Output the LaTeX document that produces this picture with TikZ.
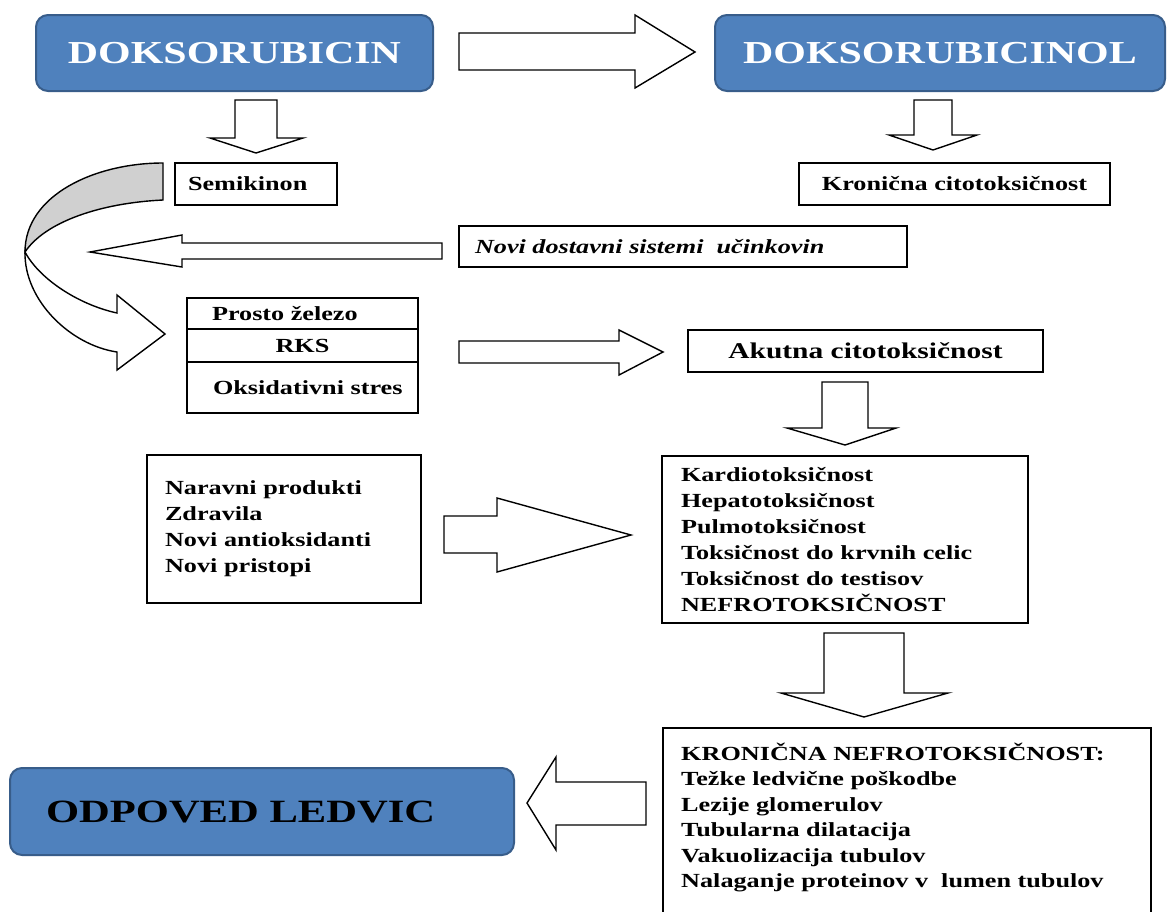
\documentclass[tikz,border=0pt]{standalone}
\usepackage{fontspec}
\setmainfont{Liberation Serif}[FakeStretch=1.31]
\definecolor{hdrfill}{HTML}{4F81BD}
\definecolor{hdrline}{HTML}{385D8A}
\definecolor{bandgray}{HTML}{D0D0D0}
\newcommand\leftcell[2]{\makebox[#1][l]{#2}}
\tikzset{
  hdr/.style={draw=hdrline, line width=2pt, fill=hdrfill, rounded corners=12pt, inner sep=0pt},
  box/.style={draw=black, line width=1.4pt, fill=white, inner sep=0pt},
  txt/.style={font=\bfseries\fontsize{20}{26}\selectfont},
  blk/.style={draw=black, line width=1.4pt, fill=white, line join=miter},
}
\begin{document}
\begin{tikzpicture}[x=1pt, y=-1pt]
\fill[white] (0,0) rectangle (1169,911);
\useasboundingbox (0,0) rectangle (1169,911);

% header boxes
\node[hdr, minimum width=397pt, minimum height=76pt, text=white,
      font=\bfseries\fontsize{32}{36}\selectfont] (doks) at (234.5,53) {DOKSORUBICIN};
\node[hdr, minimum width=450pt, minimum height=76pt, text=white,
      font=\bfseries\fontsize{32}{36}\selectfont] (doksol) at (940,53) {DOKSORUBICINOL};

% plain boxes
\node[box, txt, minimum width=162pt, minimum height=42pt, inner xsep=13pt] (semi) at (256,184)
  {\leftcell{136pt}{Semikinon}};
\node[box, txt, minimum width=311pt, minimum height=42pt] (kronc) at (954.5,184)
  {Kronična citotoksičnost};
\node[box, minimum width=448pt, minimum height=41pt, inner xsep=16pt,
      font=\bfseries\itshape\fontsize{20}{26}\selectfont] (novi) at (683,246.5)
  {\leftcell{416pt}{Novi dostavni sistemi \ učinkovin}};

\node[box, txt, minimum width=231pt, minimum height=31pt, inner xsep=25pt] (prosto) at (302.5,313.5)
  {\leftcell{181pt}{Prosto železo}};
\node[box, txt, minimum width=231pt, minimum height=33pt] (rks) at (302.5,345.5) {RKS};
\node[box, txt, minimum width=231pt, minimum height=51pt, inner xsep=26pt] (oks) at (302.5,387.5)
  {\leftcell{179pt}{Oksidativni stres}};

\node[box, minimum width=355pt, minimum height=42pt,
      font=\bfseries\fontsize{22.5}{26}\selectfont] (akut) at (865.5,351) {Akutna citotoksičnost};

\node[box, txt, minimum width=274pt, minimum height=148pt, inner xsep=18pt,
      text width=238pt, align=left] (narav) at (284,529)
  {Naravni produkti\\Zdravila\\Novi antioksidanti\\Novi pristopi};

\node[box, txt, minimum width=366pt, minimum height=167pt, inner xsep=19pt,
      text width=328pt, align=left] (kard) at (845,539.5)
  {Kardiotoksičnost\\Hepatotoksičnost\\Pulmotoksičnost\\Toksičnost do krvnih celic\\Toksičnost do testisov\\NEFROTOKSIČNOST};

\node[box, minimum width=488pt, minimum height=202pt] (kronbox) at (907,829) {};
\node[txt, font=\bfseries\fontsize{20}{25.4}\selectfont, inner sep=0pt, anchor=north west, align=left] (kronn) at (681,743)
  {KRONIČNA NEFROTOKSIČNOST:\\Težke ledvične poškodbe\\Lezije glomerulov\\Tubularna dilatacija\\Vakuolizacija tubulov\\Nalaganje proteinov v \ lumen tubulov};

\node[hdr, minimum width=504pt, minimum height=87pt, inner xsep=36pt, text=black,
      font=\bfseries\fontsize{32.5}{36}\selectfont] (odpoved) at (262,811.5)
  {\leftcell{432pt}{ODPOVED LEDVIC}};

% block arrows
\filldraw[blk] (459,33) -- (635,33) -- (635,15) -- (695,52) -- (635,88) -- (635,70) -- (459,70) -- cycle;
\filldraw[blk] (235,100) -- (277,100) -- (277,138) -- (303,138) -- (256,153) -- (210,138) -- (235,138) -- cycle;
\filldraw[blk] (914,100) -- (952,100) -- (952,135) -- (977,135) -- (933,150) -- (889,135) -- (914,135) -- cycle;
\filldraw[blk] (442,243) -- (182,243) -- (182,235) -- (90,252) -- (182,267) -- (182,259) -- (442,259) -- cycle;
\filldraw[blk] (459,341) -- (619,341) -- (619,330) -- (663,352) -- (619,375) -- (619,363) -- (459,363) -- cycle;
\filldraw[blk] (822,382) -- (868,382) -- (868,428) -- (896,428) -- (845,445) -- (787,428) -- (822,428) -- cycle;
\filldraw[blk] (444,516) -- (497,516) -- (497,498) -- (631,535) -- (497,572) -- (497,553) -- (444,553) -- cycle;
\filldraw[blk] (824,633) -- (904,633) -- (904,693) -- (948,693) -- (864,717) -- (781,693) -- (824,693) -- cycle;
\filldraw[blk] (646,782) -- (556,782) -- (556,757) -- (527,803) -- (556,850) -- (556,825) -- (646,825) -- cycle;

% curved arrow
\filldraw[blk, fill=bandgray] (163,163) .. controls (95,163) and (25,195) .. (25,252)
   .. controls (45,222) and (100,203) .. (163,200) -- cycle;
\filldraw[blk] (25,252) .. controls (40,280) and (80,305) .. (117,313) -- (117,295) -- (165,334)
   -- (117,370) -- (117,352) .. controls (70,345) and (24,300) .. (25,252) -- cycle;
\end{tikzpicture}
\end{document}
